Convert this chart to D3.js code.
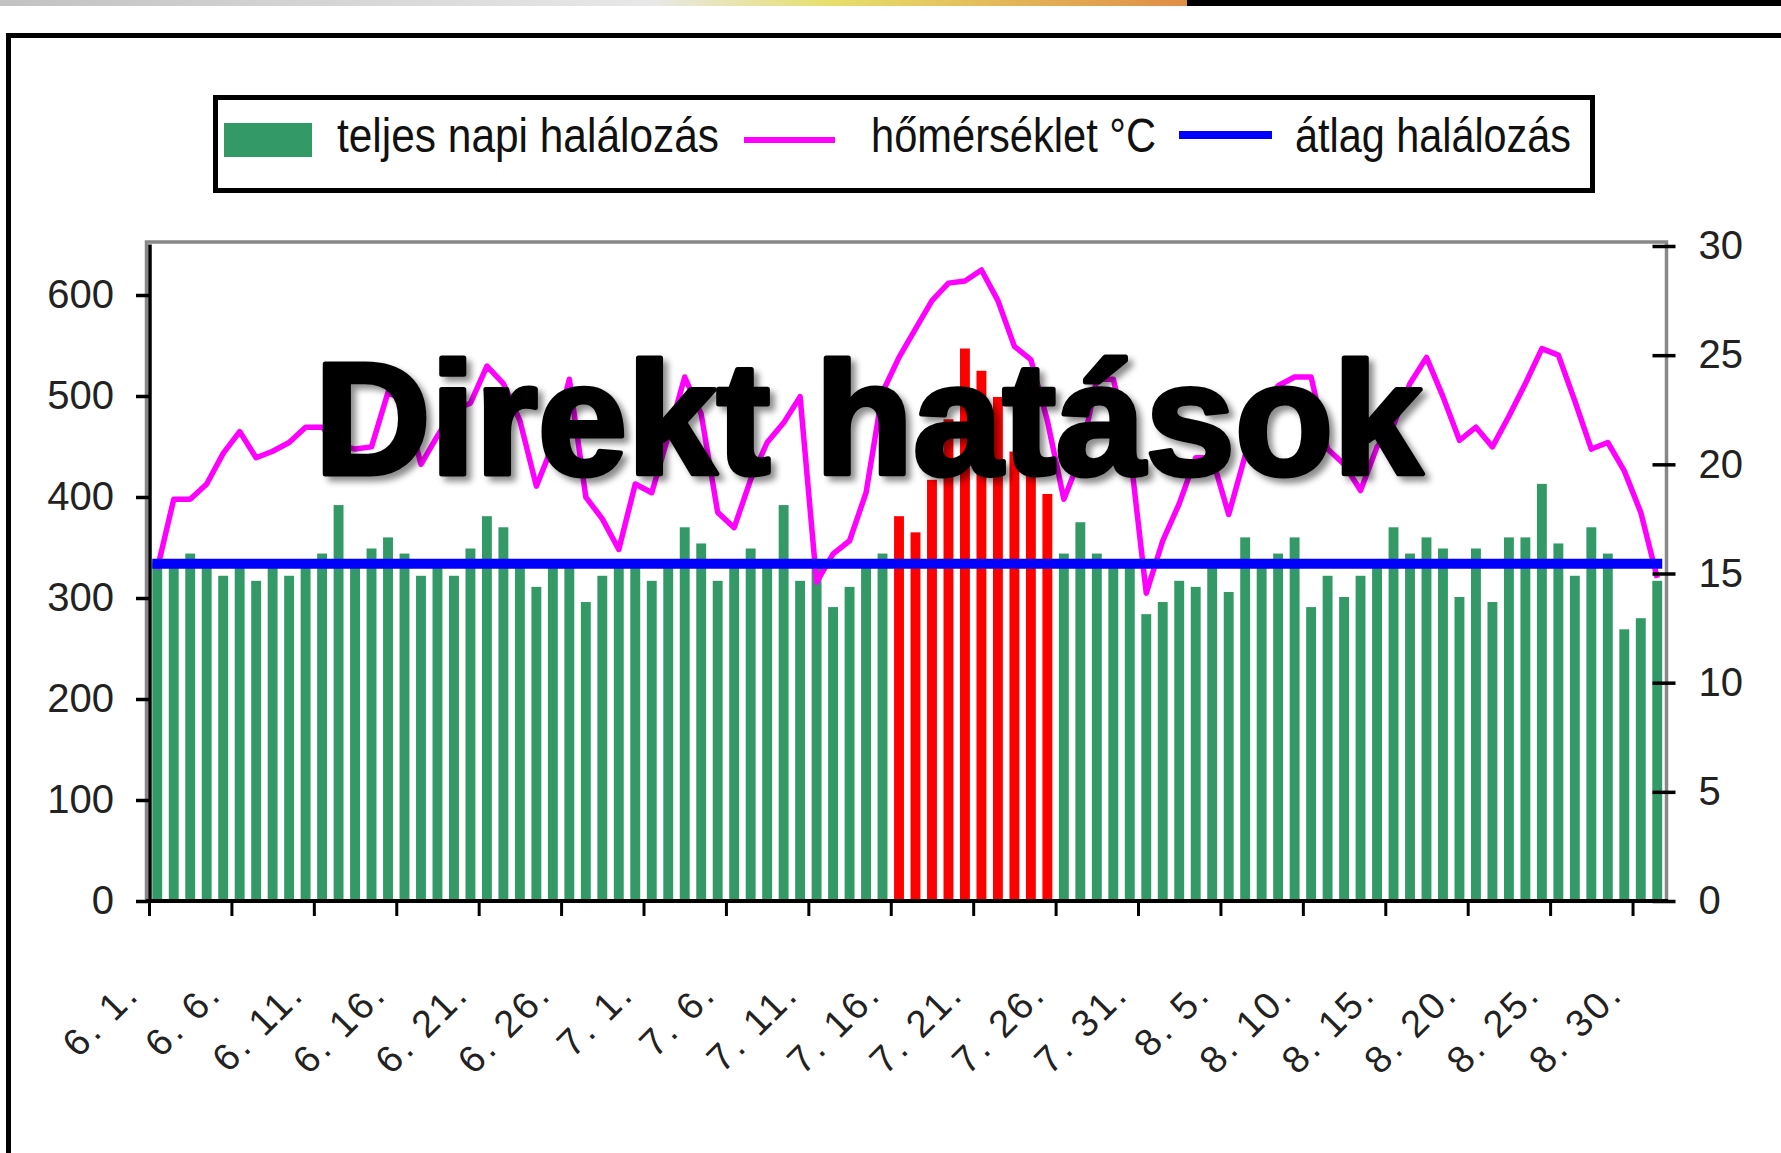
<!doctype html>
<html>
<head>
<meta charset="utf-8">
<script src="https://cdnjs.cloudflare.com/ajax/libs/d3/7.8.5/d3.min.js"></script>
<style>
  body { margin: 0; background: #fff; }
  svg { display: block; }
  text { font-family: "Liberation Sans", Arial, sans-serif; }
</style>
</head>
<body>
<svg width="1781" height="1153"></svg>
<script>
// napi halálozás, 6.1. - 8.31.
var deaths = [335, 333, 344, 332, 322, 333, 317, 333, 322, 334,
              344, 392, 333, 349, 360, 344, 322, 335, 322, 349,
              381, 370, 333, 311, 333, 333, 296, 322, 332, 333,
              317, 334, 370, 354, 317, 333, 349, 333, 392, 317,
              333, 291, 311, 333, 344, 381, 365, 417, 477, 547,
              525, 499, 445, 440, 403, 344, 375, 344, 333, 333,
              284, 296, 317, 311, 333, 306, 360, 335, 344, 360,
              291, 322, 301, 322, 333, 370, 344, 360, 349, 301,
              349, 296, 360, 360, 413, 354, 322, 370, 344, 269,
              280, 317];

// hőmérséklet °C
var temps = [15.2, 18.4, 18.4, 19.1, 20.5, 21.5, 20.3, 20.6, 21.0, 21.7,
             21.7, 20.9, 20.7, 20.8, 23.3, 22.9, 20.0, 21.3, 22.5, 22.8,
             24.5, 23.7, 22.0, 19.0, 20.9, 23.9, 18.5, 17.5, 16.1, 19.1,
             18.7, 21.3, 24.0, 22.3, 17.8, 17.1, 19.3, 21.0, 21.9, 23.1,
             14.6, 15.9, 16.5, 18.7, 23.3, 24.9, 26.2, 27.5, 28.3, 28.4,
             28.9, 27.5, 25.4, 24.8, 22.0, 18.4, 20.3, 23.9, 23.9, 20.7,
             14.1, 16.5, 18.2, 20.3, 20.3, 17.7, 20.4, 22.5, 23.6, 24.0,
             24.0, 20.7, 20.0, 18.8, 20.8, 21.8, 23.7, 24.9, 23.1, 21.1,
             21.7, 20.8, 22.2, 23.7, 25.3, 25.0, 22.9, 20.7, 21.0, 19.7,
             17.8, 14.8];

var avgDeaths = [334];
var heatwave = ["7. 16.", "7. 17.", "7. 18.", "7. 19.", "7. 20.",
                "7. 21.", "7. 22.", "7. 23.", "7. 24.", "7. 25."];

var months = [6, 7, 8];
var monthDays = [30, 31, 31];
var leftTicks = [0, 100, 200, 300, 400, 500, 600];
var rightTicks = [0, 5, 10, 15, 20, 25, 30];
var legendLabels = ["teljes  napi halálozás", "hőmérséklet °C", "átlag halálozás"];
var title = "Direkt hatások";

// dátumok: "6. 1." ...
var days = [];
months.forEach(function(m, k) {
    for (var d = 1; d <= monthDays[k]; d++) days.push(m + ". " + d + ".");
});

var svg = d3.select("svg");

var pLeft = 149, pRight = 1665.5, pTop = 244.5, pBottom = 901;

var x = d3.scaleBand().domain(days).range([pLeft, pRight]).paddingInner(0.4).paddingOuter(0.2);
var xi = d3.scaleLinear().domain([0, days.length]).range([pLeft, pRight]);
var yL = d3.scaleLinear().domain([0, 650]).range([pBottom, pTop]);
var yR = d3.scaleLinear().domain([0, 30]).range([pBottom, 246]);
var cx = function(d) { return x(d) + x.bandwidth() / 2; };

// felső csík
var defs = svg.append("defs");
var grad = defs.append("linearGradient").attr("id", "topbar");
grad.append("stop").attr("offset", "0").attr("stop-color", "#c2c2c2");
grad.append("stop").attr("offset", "0.55").attr("stop-color", "#e8e8e8");
grad.append("stop").attr("offset", "0.7").attr("stop-color", "#e6df6c");
grad.append("stop").attr("offset", "1").attr("stop-color", "#df8e46");
svg.append("rect").attr("x", 0).attr("y", 0).attr("width", 1187).attr("height", 6).attr("fill", "url(#topbar)");
svg.append("rect").attr("x", 1187).attr("y", 0).attr("width", 594).attr("height", 6).attr("fill", "#000");

var filt = defs.append("filter").attr("id", "shadow")
    .attr("x", "-5%").attr("y", "-10%").attr("width", "110%").attr("height", "130%");
filt.append("feDropShadow").attr("dx", 5).attr("dy", 5).attr("stdDeviation", 3)
    .attr("flood-color", "#000").attr("flood-opacity", 0.45);

// keret
svg.append("path").attr("d", "M8.5,1160 V35.5 H1790")
    .attr("fill", "none").attr("stroke", "#000").attr("stroke-width", 5);

// jelmagyarázat
var lg = svg.append("g");
lg.append("rect").attr("x", 215.5).attr("y", 97.5).attr("width", 1377).attr("height", 93)
    .attr("fill", "#fff").attr("stroke", "#000").attr("stroke-width", 5);
lg.append("rect").attr("x", 224).attr("y", 123).attr("width", 88).attr("height", 34).attr("fill", "#339966");
lg.append("line").attr("x1", 744).attr("x2", 835).attr("y1", 140).attr("y2", 140)
    .attr("stroke", "#ff00ff").attr("stroke-width", 6);
lg.append("line").attr("x1", 1179).attr("x2", 1272).attr("y1", 135).attr("y2", 135)
    .attr("stroke", "#0000ff").attr("stroke-width", 8);
var lgX = [337, 871, 1295], lgW = [382, 285, 276];
lg.selectAll("text.lg").data(legendLabels).enter().append("text")
    .attr("class", "lg")
    .attr("x", (d, i) => lgX[i]).attr("y", 152)
    .attr("textLength", (d, i) => lgW[i]).attr("lengthAdjust", "spacingAndGlyphs")
    .attr("font-size", 48).attr("fill", "#111")
    .text(d => d);

// rajzterület kerete
svg.append("rect").attr("x", 146.5).attr("y", 242).attr("width", 1520).attr("height", 659)
    .attr("fill", "#fff").attr("stroke", "#888").attr("stroke-width", 3.5);

// oszlopok
svg.selectAll("rect.bar").data(deaths).enter().append("rect")
    .attr("class", "bar")
    .attr("x", (d, i) => x(days[i]))
    .attr("width", x.bandwidth())
    .attr("y", d => yL(d))
    .attr("height", d => pBottom - yL(d))
    .attr("fill", (d, i) => heatwave.indexOf(days[i]) >= 0 ? "#ff0000" : "#339966");

// hőmérséklet
var line = d3.line().x((d, i) => cx(days[i])).y(d => yR(d));
svg.append("path").datum(temps).attr("d", line)
    .attr("fill", "none").attr("stroke", "#ff00ff").attr("stroke-width", 5.5)
    .attr("stroke-linejoin", "round");

// átlag
svg.selectAll("line.avg").data(avgDeaths).enter().append("line")
    .attr("class", "avg")
    .attr("x1", cx(days[0])).attr("x2", cx(days[days.length - 1]))
    .attr("y1", d => yL(d)).attr("y2", d => yL(d))
    .attr("stroke", "#0000ff").attr("stroke-width", 10).attr("stroke-linecap", "square");

// tengelyek
var yAxisL = d3.axisLeft(yL).tickValues(leftTicks).tickSize(14).tickPadding(22);
var gL = svg.append("g").attr("transform", "translate(150,0)").call(yAxisL);
gL.select(".domain").attr("stroke", "#000").attr("stroke-width", 3.5).attr("d", "M0," + (pBottom + 2) + "V" + pTop);
gL.selectAll(".tick line").attr("stroke", "#000").attr("stroke-width", 3.5);
gL.selectAll(".tick text").attr("font-size", 40).attr("fill", "#222")
    .attr("font-family", "Liberation Sans, Arial, sans-serif");

var yAxisR = d3.axisRight(yR).tickValues(rightTicks).tickSize(0).tickPadding(32);
var gR = svg.append("g").attr("transform", "translate(1666.5,0)").call(yAxisR);
gR.select(".domain").remove();
gR.selectAll(".tick").append("line").attr("x1", -14).attr("x2", 9)
    .attr("stroke", "#000").attr("stroke-width", 3.5);
gR.selectAll(".tick text").attr("font-size", 40).attr("fill", "#222")
    .attr("font-family", "Liberation Sans, Arial, sans-serif");

var xAxis = d3.axisBottom(xi).tickValues(d3.range(0, 91, 5)).tickSize(15).tickFormat("");
var gX = svg.append("g").attr("transform", "translate(0," + pBottom + ")").call(xAxis);
gX.select(".domain").attr("stroke", "#000").attr("stroke-width", 4).attr("d", "M146,0H1668");
gX.selectAll(".tick line").attr("stroke", "#000").attr("stroke-width", 3);

// dátum feliratok
svg.selectAll("text.day").data(days.filter((d, i) => i % 5 == 0)).enter().append("text")
    .attr("class", "day")
    .attr("text-anchor", "end")
    .attr("transform", d => "translate(" + (cx(d) - 16) + ",996) rotate(-45)")
    .attr("font-size", 38).attr("letter-spacing", 3).attr("fill", "#222")
    .text(d => d);

// cím
svg.append("text")
    .attr("x", 314.5).attr("y", 474)
    .attr("textLength", 1108).attr("lengthAdjust", "spacingAndGlyphs")
    .attr("font-size", 160).attr("font-weight", "bold")
    .attr("fill", "#000").attr("stroke", "#000").attr("stroke-width", 5).attr("stroke-linejoin", "round")
    .attr("filter", "url(#shadow)")
    .text(title);
</script>
</body>
</html>
